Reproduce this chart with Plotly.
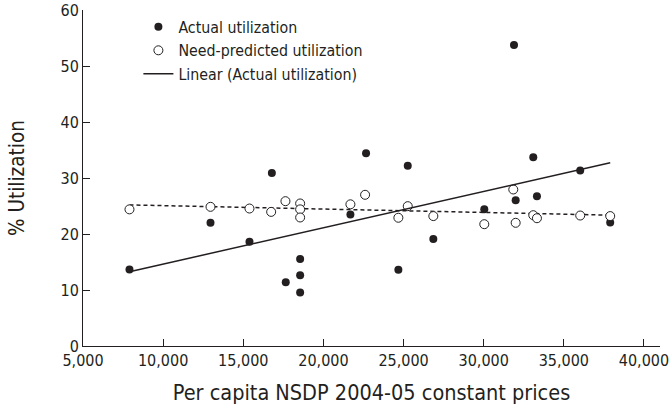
import numpy as np
import plotly.graph_objects as go

# Per capita NSDP (x) and utilization values
nsdp = [7900, 12955, 15387, 16783, 17650, 18548, 18548, 18548, 21684, 22660,
        24676, 25262, 26858, 30037, 31890, 31995, 33093, 33323, 36022, 37893]
actual = [13.65, 22.0, 18.6, 30.9, 11.4, 15.55, 12.64, 9.54, 23.48, 34.4,
          13.6, 32.2, 19.1, 24.43, 53.75, 26.04, 33.7, 26.76, 31.35, 22.05]
nsdp_pred = [7900, 12955, 15387, 16740, 17631, 18548, 18548, 18548, 21684, 22600,
             24676, 25262, 26858, 30037, 31846, 31995, 33093, 33323, 36022, 37893]
need_pred = [24.4, 24.85, 24.55, 23.95, 25.86, 25.45, 24.4, 22.95, 25.3, 27.0,
             22.9, 24.97, 23.2, 21.75, 27.95, 22.0, 23.36, 22.82, 23.3, 23.2]

x_ticks = [5000, 10000, 15000, 20000, 25000, 30000, 35000, 40000]
y_ticks = [0, 10, 20, 30, 40, 50, 60]

xa = np.array(nsdp, dtype=float)
ya = np.array(actual, dtype=float)
xp = np.array(nsdp_pred, dtype=float)
yp = np.array(need_pred, dtype=float)

ka, ba = np.polyfit(xa, ya, 1)
kp, bp = np.polyfit(xp, yp, 1)
x_line = np.array([xa.min(), xa.max()])

FONT = "DejaVu Sans Condensed, Liberation Sans Narrow, Arial Narrow, sans-serif"
INK = "#231f20"

fig = go.Figure()
fig.add_trace(go.Scatter(
    x=x_line, y=kp * x_line + bp, mode="lines",
    line=dict(color=INK, width=1.5, dash="4px,3px"),
    showlegend=False, hoverinfo="skip"))
fig.add_trace(go.Scatter(
    x=nsdp, y=actual, mode="markers", name="Actual utilization",
    marker=dict(color=INK, size=8, line=dict(width=0))))
fig.add_trace(go.Scatter(
    x=nsdp_pred, y=need_pred, mode="markers", name="Need-predicted utilization",
    marker=dict(color="white", size=9, line=dict(color=INK, width=1))))
fig.add_trace(go.Scatter(
    x=x_line, y=ka * x_line + ba, mode="lines", name="Linear (Actual utilization)",
    line=dict(color=INK, width=1.5)))

fig.update_layout(
    width=671, height=412,
    margin=dict(l=83, r=11, t=10, b=66),
    paper_bgcolor="white", plot_bgcolor="white",
    font=dict(family=FONT, color=INK, size=16),
    legend=dict(x=0.096, y=1.0, xanchor="left", yanchor="top",
                font=dict(size=15.8, family=FONT, color=INK),
                bgcolor="rgba(0,0,0,0)", tracegroupgap=0, itemwidth=30,
                traceorder="normal"),
    xaxis=dict(range=[5000, 41000], tickvals=x_ticks, tickformat=",d",
               showline=True, linecolor=INK, linewidth=1, ticks="inside",
               ticklen=7, tickcolor=INK, showgrid=False, zeroline=False,
               tickfont=dict(size=16), mirror=False, automargin=False,
               title=dict(text="Per capita NSDP 2004-05 constant prices",
                          font=dict(size=21.5))),
    yaxis=dict(range=[0, 60], tickvals=y_ticks, showline=True, linecolor=INK,
               linewidth=1, ticks="inside", ticklen=7, tickcolor=INK,
               showgrid=False, zeroline=False, tickfont=dict(size=16),
               automargin=False,
               title=dict(text="% Utilization", font=dict(size=20.5),
                          standoff=30)),
)

fig.write_html("out.html",
               config={"displayModeBar": False},
               post_script="document.body.style.margin='0';"
                           "document.body.style.overflow='hidden';")
